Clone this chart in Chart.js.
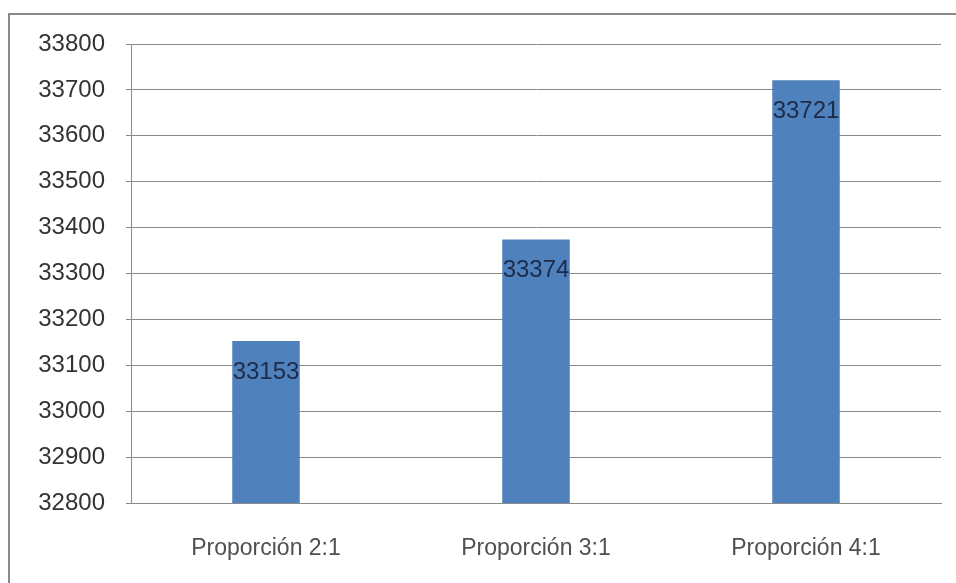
<!DOCTYPE html>
<html><head><meta charset="utf-8">
<script src="https://cdn.jsdelivr.net/npm/chart.js@4/dist/chart.umd.min.js"></script>
<style>html,body{margin:0;padding:0;background:#fff;}#wrap{width:956px;height:583px;position:relative;}</style>
</head><body><div id="wrap"><canvas id="c" width="956" height="583"></canvas></div>
<script>
const categories = ["Proporción 2:1", "Proporción 3:1", "Proporción 4:1"];
const values = [33153, 33374, 33721];
const yMin = 32800, yMax = 33800, yStep = 100;

const framePlugin = {
  id: 'frame',
  beforeDraw(chart) {
    const ctx = chart.ctx;
    ctx.save();
    ctx.fillStyle = '#fff';
    ctx.fillRect(0, 0, chart.width, chart.height);
    ctx.strokeStyle = '#8a8a8a';
    ctx.lineWidth = 2;
    ctx.beginPath();
    ctx.moveTo(9, 600);
    ctx.lineTo(9, 14);
    ctx.lineTo(960, 14);
    ctx.stroke();
    ctx.restore();
  }
};
const labelPlugin = {
  id: 'vals',
  afterDatasetsDraw(chart) {
    const ctx = chart.ctx;
    const meta = chart.getDatasetMeta(0);
    ctx.save();
    ctx.font = '24px "Liberation Sans", Arial, sans-serif';
    ctx.fillStyle = '#1c2b4a';
    ctx.textAlign = 'center';
    ctx.textBaseline = 'middle';
    meta.data.forEach((bar, i) => {
      ctx.fillText(String(values[i]), bar.x, bar.y + 31);
    });
    ctx.restore();
  }
};

new Chart(document.getElementById('c'), {
  type: 'bar',
  data: {
    labels: categories,
    datasets: [{
      data: values,
      backgroundColor: '#4f81bd',
      borderWidth: 0,
      categoryPercentage: 1,
      barPercentage: 0.25
    }]
  },
  options: {
    responsive: false,
    animation: false,
    plugins: { legend: { display: false }, tooltip: { enabled: false } },
    layout: { padding: { left: 0, top: 44, right: 15, bottom: 0 } },
    scales: {
      x: {
        grid: { display: false },
        border: { display: true, color: '#8a8a8a', width: 1 },
        ticks: { color: '#505050', padding: 24, font: { family: '"Liberation Sans", Arial, sans-serif', size: 23 } },
        afterFit(s) { s.height = 80; }
      },
      y: {
        min: yMin, max: yMax,
        grid: { color: '#8a8a8a', lineWidth: 1, tickLength: 5, drawTicks: true },
        border: { display: true, color: '#8a8a8a', width: 1 },
        ticks: { stepSize: yStep, color: '#333', padding: 21, font: { family: '"Liberation Sans", Arial, sans-serif', size: 24 },
          callback: (v) => String(v) },
        afterFit(s) { s.width = 131; }
      }
    }
  },
  plugins: [framePlugin, labelPlugin]
});
</script></body></html>
